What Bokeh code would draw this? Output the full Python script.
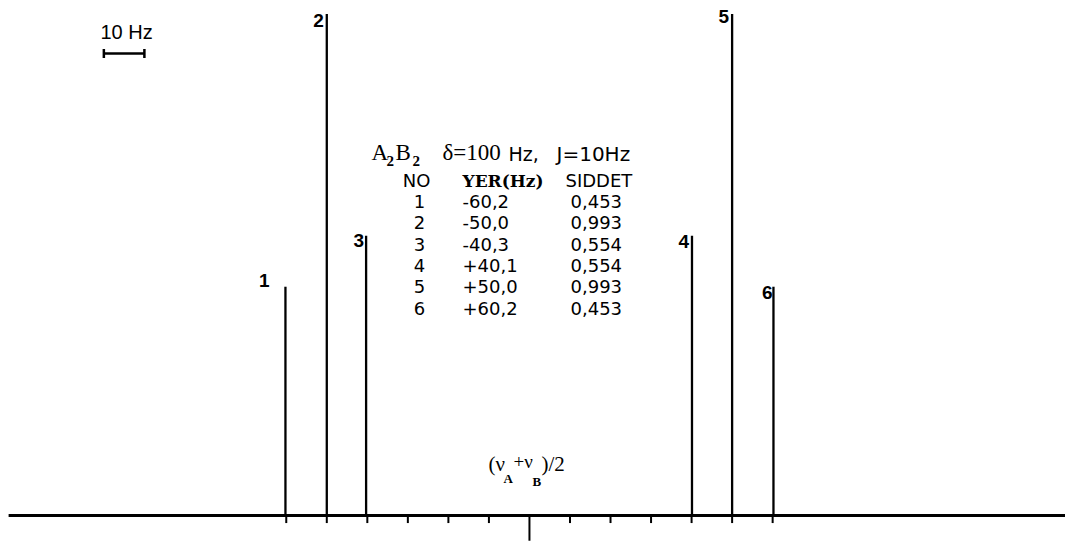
from bokeh.plotting import figure
from bokeh.models import Label, Range1d, ColumnDataSource
from bokeh.core.properties import value
from bokeh.embed import file_html
from bokeh.resources import INLINE

# A2B2 spin system, delta = 100 Hz, J = 10 Hz: line positions (Hz from centre) and intensities
peak_no = ["1", "2", "3", "4", "5", "6"]
peak_pos = [-60.2, -50.0, -40.3, 40.1, 50.0, 60.2]
peak_int = [0.453, 0.993, 0.554, 0.554, 0.993, 0.453]

# frequency ticks every 10 Hz along the baseline
tick_hz = [-60, -50, -40, -30, -20, -10, 0, 10, 20, 30, 40, 50, 60]

# horizontal extent of the baseline (Hz)
base_left, base_right = -128.5, 135.0

W, H = 1065, 542
SANS = "DejaVu Sans"
SERIF = "Liberation Serif"
WIDE_SERIF = "DejaVu Serif"

p = figure(width=W, height=H, output_backend="svg", toolbar_location=None,
           x_range=Range1d(-130.5, 132.25), y_range=Range1d(-0.0535, 1.0198),
           min_border=0, outline_line_color=None,
           background_fill_color="white", border_fill_color="white")
p.axis.visible = False
p.grid.visible = False

# baseline
p.segment(x0=[base_left], y0=[0], x1=[base_right], y1=[0], line_color="black", line_width=3)

# ticks: short ones, longer one at the centre (vA+vB)/2
tick_len = [0.05 if t == 0 else 0.015 for t in tick_hz]
p.segment(x0=tick_hz, y0=[0] * len(tick_hz), x1=tick_hz,
          y1=[-l for l in tick_len], line_color="black", line_width=2)

# stick spectrum
src = ColumnDataSource(dict(x=peak_pos, h=peak_int, no=peak_no,
                            dx=[-16, -3, -2, -3, -3, -1],
                            dy=[-6, 6, 5, 6, 2, 6]))
p.segment(x0="x", y0=0, x1="x", y1="h", source=src, line_color="black", line_width=2.3)
p.text(x="x", y="h", text="no", source=src, x_offset="dx", y_offset="dy",
       text_align="right", text_baseline="middle",
       text_font=value("Liberation Sans"), text_font_size="19px", text_font_style="bold",
       text_color="black")

# 10 Hz scale bar
bar_left, bar_hz, bar_y, cap = -105.0, 10.0, 0.915, 0.009
p.segment(x0=[bar_left], y0=[bar_y], x1=[bar_left + bar_hz], y1=[bar_y],
          line_color="black", line_width=2.5)
p.segment(x0=[bar_left, bar_left + bar_hz], y0=[bar_y - cap] * 2,
          x1=[bar_left, bar_left + bar_hz], y1=[bar_y + cap] * 2,
          line_color="black", line_width=2.5)


def label(x, ytop, text, font=SANS, size=18, style="normal", align="left"):
    p.add_layout(Label(x=x, y=H - ytop, x_units="screen", y_units="screen",
                       text=text, text_font=font, text_font_size=f"{size}px",
                       text_font_style=style, text_align=align,
                       text_baseline="middle", text_color="black"))


label(100, 31, "10 Hz", font="Liberation Sans", size=20)

# heading
label(371, 152, "A", font=SERIF, size=23)
label(386, 160, "2", font=SERIF, size=15, style="bold")
label(395, 152, "B", font=SERIF, size=23)
label(412, 160, "2", font=SERIF, size=15, style="bold")
label(442, 152, "\u03b4=100", font=SERIF, size=23)
label(508, 153, "Hz,", size=19)
label(556, 153, "J=10Hz", size=20)

# table of lines
label(416, 180, "NO", size=18, align="center")
label(462, 180, "YER(Hz)", font=WIDE_SERIF, size=17, style="bold")
label(565, 180, "SIDDET", size=18)
row_y0, row_step = 201, 21.3
for i, (n, pos, inten) in enumerate(zip(peak_no, peak_pos, peak_int)):
    y = row_y0 + i * row_step
    label(419, y, n, size=18, align="center")
    label(462, y, f"{pos:+.1f}".replace(".", ","), size=18)
    label(570, y, f"{inten:.3f}".replace(".", ","), size=18)

# centre of the multiplet: (vA+vB)/2
label(488, 463, "(\u03bd", font=SERIF, size=21)
label(503, 478, "A", font=SERIF, size=13, style="bold")
label(513, 461, "+\u03bd", font=SERIF, size=19)
label(532, 481, "B", font=SERIF, size=13, style="bold")
label(541, 463, ")/2", font=SERIF, size=21)

open("out.html", "w").write(file_html(p, INLINE))
